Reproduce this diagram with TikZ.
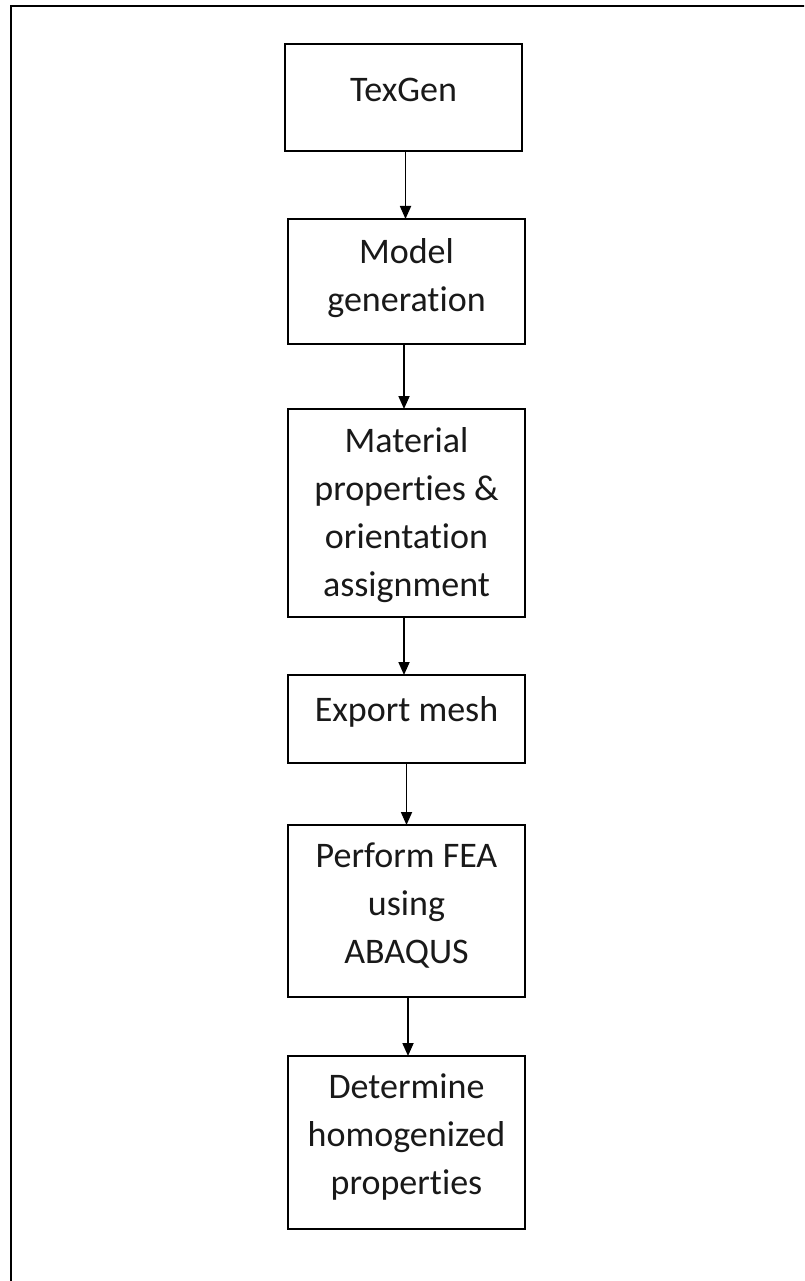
\documentclass[tikz,border=0pt]{standalone}
\usepackage{fontspec}
\setmainfont[Ligatures=NoCommon]{Carlito}
\usetikzlibrary{arrows.meta}
\begin{document}
\begin{tikzpicture}[x=1pt,y=-1pt,
  stepbox/.style={draw=black, line width=1.8pt, minimum width=237pt, inner sep=0pt, outer sep=0pt},
  steptext/.style={align=center, font=\fontsize{36}{48}\selectfont, text=black!90},
  flow/.style={line width=1.8pt, -{Triangle[length=13pt,width=11pt]}}]
\useasboundingbox (0,0) rectangle (804,1281);
\clip (0,0) rectangle (804,1281);
\fill[white] (0,0) rectangle (804,1281);
% outer frame (only top and left edges visible)
\draw[line width=2.2pt] (830,6) -- (11,6) -- (11,1300);
% boxes
\node[stepbox, minimum height=107pt, label={[steptext, yshift=8pt]center:TexGen}] (n1) at (403.5,97.5) {};
\node[stepbox, minimum height=125pt, label={[steptext, yshift=3pt]center:Model\\generation}] (n2) at (406.5,281.5) {};
\node[stepbox, minimum height=208pt, label={[steptext, yshift=-2pt]center:Material\\properties \&\\orientation\\assignment}] (n3) at (406.5,513) {};
\node[stepbox, minimum height=88pt, label={[steptext, yshift=7pt]center:Export mesh}] (n4) at (406.5,719) {};
\node[stepbox, minimum height=172pt, label={[steptext, yshift=5pt]center:Perform FEA\\using\\ABAQUS}] (n5) at (406.5,911) {};
\node[stepbox, minimum height=173pt, label={[steptext, yshift=5pt]center:Determine\\homogenized\\properties}] (n6) at (406.5,1142.5) {};
% arrows
\draw[flow] ([xshift=2pt]n1.south) -- ([xshift=2pt]n1.south |- n2.north);
\draw[flow] ([xshift=-2.5pt]n2.south) -- ([xshift=-2.5pt]n2.south |- n3.north);
\draw[flow] ([xshift=-2.5pt]n3.south) -- ([xshift=-2.5pt]n3.south |- n4.north);
\draw[flow] (n4.south) -- (n5.north);
\draw[flow] ([xshift=1.5pt]n5.south) -- ([xshift=1.5pt]n6.north);
\end{tikzpicture}
\end{document}
